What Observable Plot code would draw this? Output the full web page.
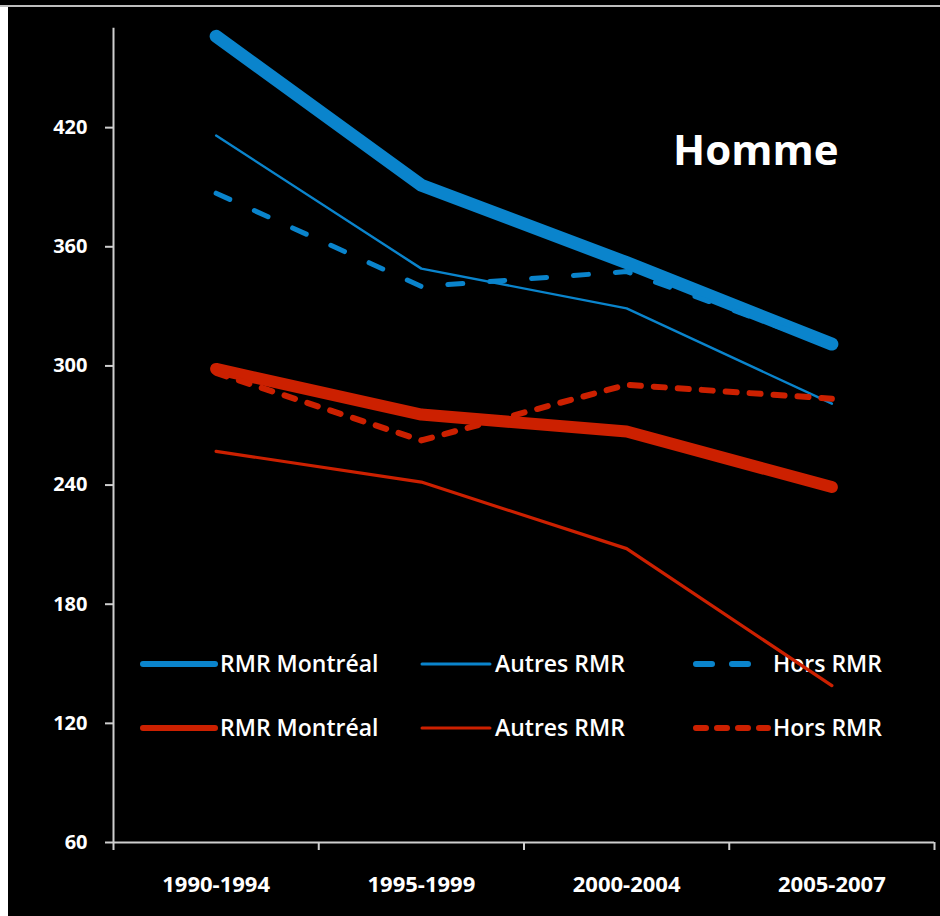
<!DOCTYPE html>
<html>
<head>
<meta charset="utf-8">
<script src="https://cdn.jsdelivr.net/npm/d3@7"></script>
<script src="https://cdn.jsdelivr.net/npm/@observablehq/plot@0.6"></script>
<style>
  html, body { margin: 0; padding: 0; }
  body { width: 940px; height: 916px; background: #000; position: relative; overflow: hidden; font-family: "Open Sans", sans-serif; }
  #rule { position: absolute; left: 0; top: 5px; width: 940px; height: 2px; background: #bdbdbd; }
  #edge { position: absolute; left: 0; top: 7px; width: 8px; height: 909px; background: #fff; }
  #legend { position: absolute; left: 0; top: 0; }
  #chart { position: absolute; left: 8px; top: 8px; }
</style>
</head>
<body>
<div id="rule"></div>
<div id="edge"></div>
<div id="legend"></div>
<div id="chart"></div>
<script>
// Periods on the horizontal axis
const periods = ["1990-1994", "1995-1999", "2000-2004", "2005-2007"];
const yTicks = [60, 120, 180, 240, 300, 360, 420];

// Rates by region (blue group)
const blueMontreal = [466, 391, 352, 311];
const blueAutres   = [416, 349, 329, 281];
const blueHors     = [387, 340, 347.5, 310];

// Rates by region (red group)
const redMontreal = [298.5, 275.5, 267, 239];
const redAutres   = [257, 241.5, 208, 139];
const redHors     = [296.5, 262.5, 290.5, 283.5];

const panelTitle = "Homme";

const BLUE = "#0a84cc";
const RED = "#cc2000";
const AXIS = "#cfcfcf";

const series = [
  {label: "RMR Montréal", values: blueMontreal, color: BLUE, width: 13, dash: null, legendWidth: 6, legendDash: null},
  {label: "Autres RMR",   values: blueAutres,   color: BLUE, width: 2.4, dash: null, legendWidth: 3, legendDash: null},
  {label: "Hors RMR",     values: blueHors,     color: BLUE, width: 5, dash: "15,27", legendWidth: 6, legendDash: "16,20"},
  {label: "RMR Montréal", values: redMontreal,  color: RED,  width: 12, dash: null, legendWidth: 6, legendDash: null},
  {label: "Autres RMR",   values: redAutres,    color: RED,  width: 3.2, dash: null, legendWidth: 3, legendDash: null},
  {label: "Hors RMR",     values: redHors,      color: RED,  width: 6, dash: "11,13", legendWidth: 6, legendDash: "10,11"}
];

const rows = s => s.values.map((v, i) => ({i, v}));
const bounds = d3.range(periods.length + 1).map(k => k - 0.5);

const lineMarks = series.map(s => Plot.line(rows(s), {
  x: "i", y: "v",
  stroke: s.color, strokeWidth: s.width,
  strokeDasharray: s.dash, strokeLinecap: "round", strokeLinejoin: "round"
}));

const chart = Plot.plot({
  width: 932,
  height: 908,
  marginLeft: 105,
  marginRight: 6,
  marginTop: 0,
  marginBottom: 74,
  style: {background: "transparent", color: "#fff", fontFamily: "Open Sans, sans-serif", overflow: "visible"},
  x: {type: "linear", domain: [-0.5, periods.length - 0.5], axis: null},
  y: {domain: [60, 480], axis: null},
  marks: [
    // axis lines
    Plot.ruleX([bounds[0]], {y1: 60, y2: 470, stroke: AXIS, strokeWidth: 2}),
    Plot.ruleY([60], {x1: bounds[0], x2: bounds[bounds.length - 1], stroke: AXIS, strokeWidth: 2}),
    // y ticks
    Plot.axisY({ticks: yTicks, tickSize: 8, tickFormat: () => "", label: null, stroke: AXIS, strokeWidth: 2}),
    // y tick labels
    Plot.text(yTicks, {x: bounds[0], y: d => d, dx: -26, textAnchor: "end", fill: "#fff",
      fontSize: 20, fontWeight: "bold", letterSpacing: 0.8}),
    // boundary ticks between periods
    Plot.axisX({ticks: bounds, tickSize: 8, tickFormat: () => "", label: null, stroke: AXIS, strokeWidth: 2}),
    // period labels
    Plot.axisX({ticks: d3.range(periods.length), tickSize: 0, tickPadding: 34, tickFormat: i => periods[i],
      label: null, fill: "#fff", fontSize: 22, fontWeight: "bold", letterSpacing: 0.6}),
    ...lineMarks,
    Plot.text([panelTitle], {frameAnchor: "top-right", dx: -96, dy: 127, textAnchor: "end",
      fill: "#fff", fontSize: 42, fontWeight: "bold"})
  ]
});
document.getElementById("chart").appendChild(chart);

// Legend: two rows (blue, red) of three entries
const colX = [143, 422, 696];
const swatchW = [72, 68, 72];
const rowY = [664, 728];
const lg = d3.select("#legend").append("svg").attr("width", 940).attr("height", 916);
series.forEach((s, k) => {
  const c = k % 3, r = Math.floor(k / 3);
  const g = lg.append("g").attr("transform", `translate(${colX[c]},${rowY[r]})`);
  g.append("line").attr("x1", 0).attr("x2", swatchW[c]).attr("y1", 0).attr("y2", 0)
    .attr("stroke", s.color).attr("stroke-width", s.legendWidth)
    .attr("stroke-linecap", "round")
    .attr("stroke-dasharray", s.legendDash);
  g.append("text").attr("x", swatchW[c] + 5).attr("y", 0)
    .attr("dy", "0.35em")
    .attr("fill", "#fff")
    .attr("font-family", "Open Sans, sans-serif")
    .attr("font-size", 23)
    .attr("font-weight", 600)
    .text(s.label);
});
</script>
</body>
</html>
